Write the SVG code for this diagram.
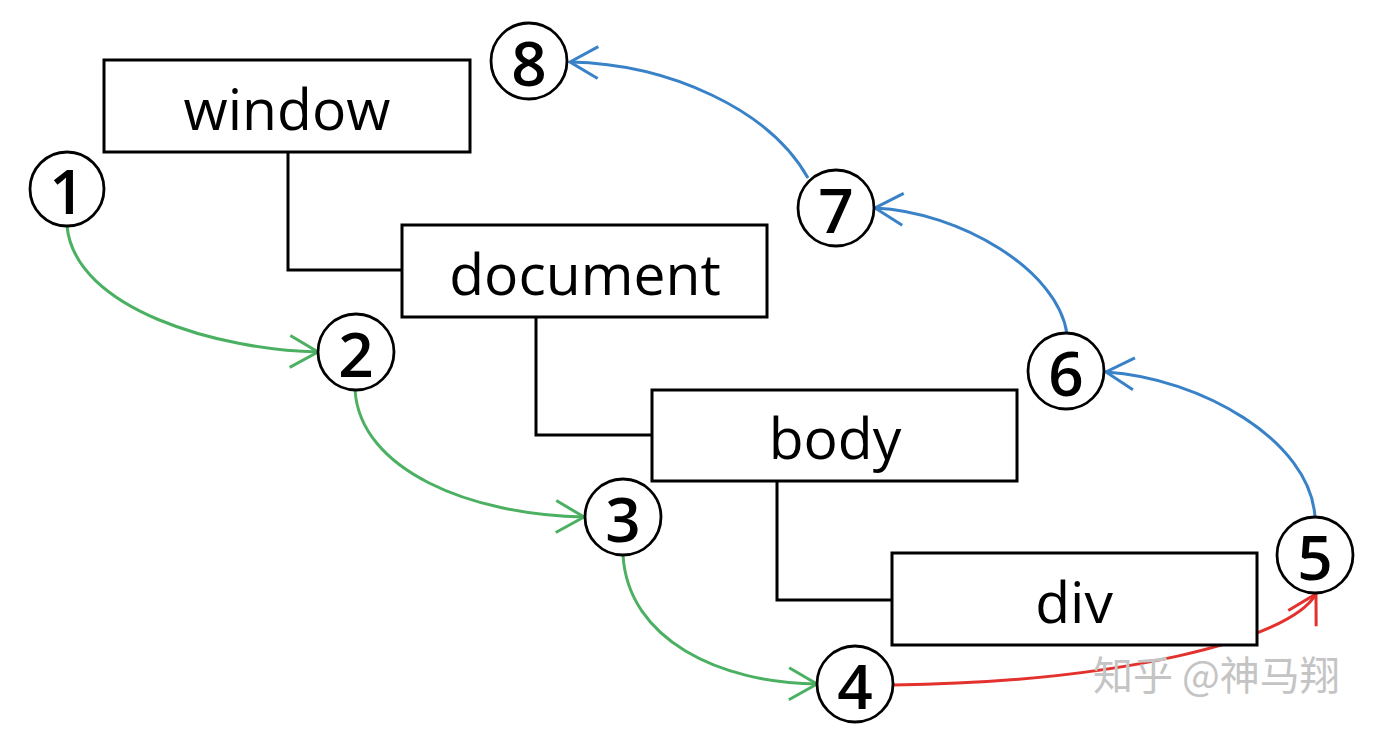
<svg xmlns="http://www.w3.org/2000/svg" width="1374" height="734" viewBox="0 0 1374 734">
  <style>
    .box { fill: #ffffff; stroke: #000000; stroke-width: 3; }
    .lbl { font-family: "Open Sans", "Liberation Sans", sans-serif; font-size: 57px; font-weight: 500; fill: #000000; text-anchor: middle; }
    .circ { fill: #ffffff; stroke: #000000; stroke-width: 2.8; }
    .num { font-family: "Open Sans", "Liberation Sans", sans-serif; font-size: 62px; font-weight: 600; fill: #000000; text-anchor: middle; }
    .tree { fill: none; stroke: #000000; stroke-width: 3; }
    .g { fill: none; stroke: #4bb062; stroke-width: 3; marker-end: url(#ag); }
    .b { fill: none; stroke: #3a82c8; stroke-width: 3; marker-end: url(#ab); }
    .r { fill: none; stroke: #e3312d; stroke-width: 3; marker-end: url(#ar); }
    .wm { font-family: "Noto Sans CJK SC", sans-serif; font-size: 40px; fill: #c4c4c4; }
  </style>
  <defs>
    <marker id="ag" markerUnits="userSpaceOnUse" markerWidth="34" markerHeight="36" refX="30" refY="18" orient="auto" viewBox="0 0 34 36">
      <path d="M2,2 L30,18 L2,34" fill="none" stroke="#4bb062" stroke-width="3"/>
    </marker>
    <marker id="ab" markerUnits="userSpaceOnUse" markerWidth="34" markerHeight="36" refX="30" refY="18" orient="auto" viewBox="0 0 34 36">
      <path d="M2,2 L30,18 L2,34" fill="none" stroke="#3a82c8" stroke-width="3"/>
    </marker>
    <marker id="ar" markerUnits="userSpaceOnUse" markerWidth="34" markerHeight="36" refX="30" refY="18" orient="auto" viewBox="0 0 34 36">
      <path d="M2,2 L30,18 L2,34" fill="none" stroke="#e3312d" stroke-width="3"/>
    </marker>
  </defs>
  <rect width="1374" height="734" fill="#ffffff"/>

  <g id="connectors">
    <path class="tree" d="M288,152 V270 H402"/>
    <path class="tree" d="M536,317 V435 H652"/>
    <path class="tree" d="M777,481 V600 H892"/>
    <path class="g" d="M67,226 C75,310 220,350 318,352"/>
    <path class="g" d="M355,390 C360,470 470,515 584,517"/>
    <path class="g" d="M623,555 C628,640 720,683 817,684"/>
    <path class="r" d="M893,685 C1120,682 1290,640 1316,594"/>
    <path class="b" d="M1315,517 C1310,440 1200,378 1106,372"/>
    <path class="b" d="M1067,334 C1058,270 960,212 875,208"/>
    <path class="b" d="M808,178 C770,110 670,64 570,62"/>
  </g>

  <g id="window">
    <rect class="box" x="104" y="60" width="366" height="92"/>
    <text class="lbl" x="287" y="130">window</text>
  </g>
  <g id="document">
    <rect class="box" x="402" y="225" width="365" height="92"/>
    <text class="lbl" x="585" y="295">document</text>
  </g>
  <g id="body">
    <rect class="box" x="652" y="390" width="365" height="91"/>
    <text class="lbl" x="835" y="459">body</text>
  </g>
  <g id="div">
    <rect class="box" x="892" y="553" width="365" height="92"/>
    <text class="lbl" x="1074" y="623">div</text>
  </g>

  <g id="n1"><circle class="circ" cx="67" cy="189" r="37"/><text class="num" x="67" y="214">1</text></g>
  <g id="n2"><circle class="circ" cx="356" cy="352" r="38"/><text class="num" x="356" y="377">2</text></g>
  <g id="n3"><circle class="circ" cx="623" cy="517" r="38"/><text class="num" x="623" y="542">3</text></g>
  <g id="n4"><circle class="circ" cx="855" cy="684" r="38"/><text class="num" x="855" y="709">4</text></g>
  <g id="n5"><circle class="circ" cx="1315" cy="555" r="38"/><text class="num" x="1315" y="580">5</text></g>
  <g id="n6"><circle class="circ" cx="1066" cy="371" r="38"/><text class="num" x="1066" y="396">6</text></g>
  <g id="n7"><circle class="circ" cx="836" cy="208" r="38"/><text class="num" x="836" y="233">7</text></g>
  <g id="n8"><circle class="circ" cx="529" cy="61" r="38"/><text class="num" x="529" y="86">8</text></g>

  <text class="wm" x="1093" y="690">知乎 @神马翔</text>
</svg>
